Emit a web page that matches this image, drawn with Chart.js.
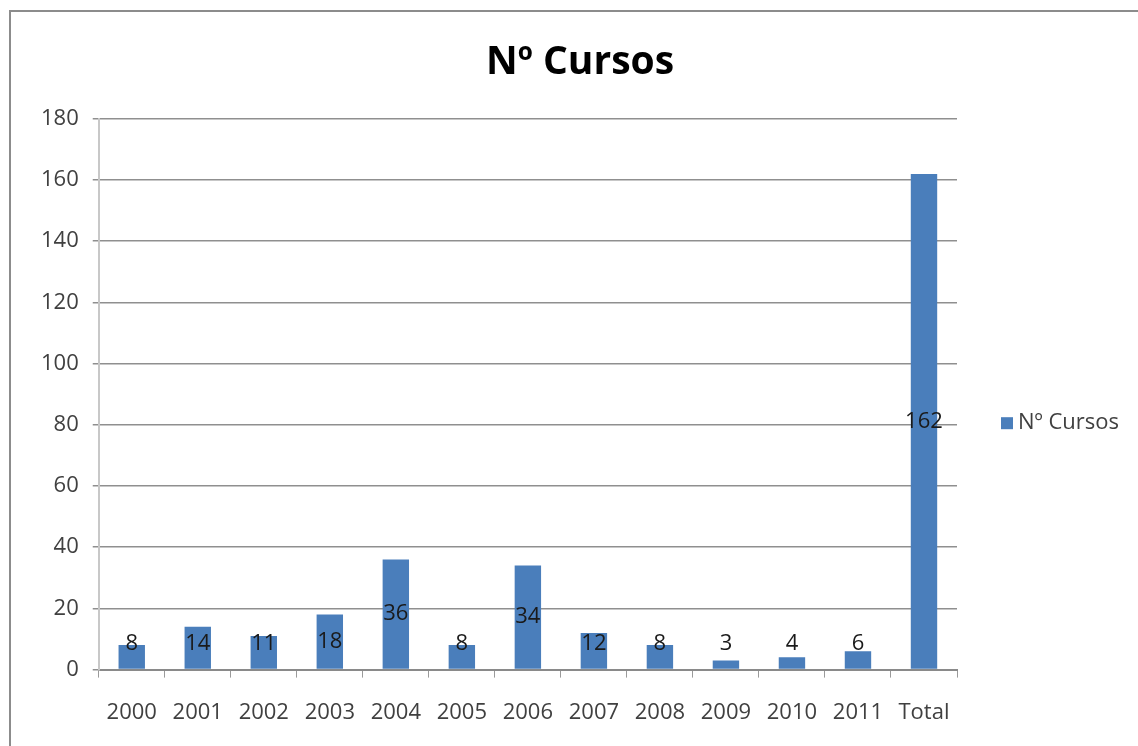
<!DOCTYPE html>
<html>
<head>
<meta charset="utf-8">
<script src="https://cdn.jsdelivr.net/npm/chart.js"></script>
<style>
    body { margin: 0; background: #fff; }
    #wrap { position: relative; width: 1138px; height: 746px; overflow: hidden; }
    #frame { position: absolute; left: 9px; top: 10px; width: 1200px; height: 800px; border: 2px solid #8c8c8c; box-sizing: border-box; }
    canvas { position: absolute; left: 0; top: 0; }
</style>
</head>
<body>
<div id="wrap">
    <div id="frame"></div>
    <canvas id="cursosChart" width="1138" height="746"></canvas>
</div>
<script>
const categories = ['2000', '2001', '2002', '2003', '2004', '2005', '2006', '2007', '2008', '2009', '2010', '2011', 'Total'];
const cursos = [8, 14, 11, 18, 36, 8, 34, 12, 8, 3, 4, 6, 162];
const yTicks = [0, 20, 40, 60, 80, 100, 120, 140, 160, 180];
const seriesName = 'Nº Cursos';
const barColor = '#4a7ebb';
const fontFamily = '"Open Sans", "Liberation Sans", sans-serif';

// value labels, centered on the bar but kept clear of the axis (like Excel)
const valueLabels = {
    id: 'valueLabels',
    afterDatasetsDraw(chart) {
        const ctx = chart.ctx;
        const meta = chart.getDatasetMeta(0);
        ctx.save();
        ctx.font = '22px ' + fontFamily;
        ctx.fillStyle = '#1a1a1a';
        ctx.textAlign = 'center';
        ctx.textBaseline = 'middle';
        meta.data.forEach((bar, i) => {
            const mid = (bar.y + bar.base) / 2;
            const y = Math.min(mid, bar.base - 25);
            ctx.fillText(String(cursos[i]), bar.x, y);
        });
        ctx.restore();
    }
};

// legend at the right, like the Excel one
const sideLegend = {
    id: 'sideLegend',
    afterDraw(chart) {
        const ctx = chart.ctx;
        const area = chart.chartArea;
        const x = area.right + 44;
        const y = (area.top + area.bottom) / 2 + 29;
        ctx.save();
        ctx.fillStyle = barColor;
        ctx.fillRect(x, y - 6, 12, 12);
        ctx.font = '22px ' + fontFamily;
        ctx.fillStyle = '#404040';
        ctx.textAlign = 'left';
        ctx.textBaseline = 'middle';
        ctx.fillText(seriesName, x + 17, y);
        ctx.restore();
    }
};

const ctx = document.getElementById('cursosChart').getContext('2d');
new Chart(ctx, {
    type: 'bar',
    data: {
        labels: categories,
        datasets: [{
            label: seriesName,
            data: cursos,
            backgroundColor: barColor,
            borderWidth: 0,
            barPercentage: 0.4,
            categoryPercentage: 1
        }]
    },
    options: {
        responsive: false,
        animation: false,
        layout: { padding: { top: 39, right: 5, left: 27, bottom: -2 } },
        plugins: {
            legend: { display: false },
            tooltip: { enabled: false },
            title: {
                display: true,
                text: seriesName,
                color: '#000',
                font: { family: fontFamily, size: 39, weight: 'bold' },
                padding: { top: 0, bottom: 33 }
            }
        },
        scales: {
            x: {
                grid: {
                    offset: true,
                    drawOnChartArea: false,
                    drawTicks: true,
                    tickLength: 8,
                    color: '#9a9a9a'
                },
                border: { display: true, color: '#8a8a8a', width: 2 },
                ticks: {
                    color: '#404040',
                    padding: 22,
                    maxRotation: 0,
                    font: { family: fontFamily, size: 22 }
                }
            },
            y: {
                min: 0,
                max: 180,
                afterBuildTicks(scale) {
                    scale.ticks = yTicks.map(v => ({ value: v }));
                },
                grid: {
                    color: '#8f8f8f',
                    lineWidth: 1.5,
                    tickLength: 6
                },
                border: { display: true, color: '#c8c8c8', width: 2 },
                ticks: {
                    color: '#404040',
                    padding: 14,
                    font: { family: fontFamily, size: 22 }
                }
            },
            // empty right-hand box that keeps room for the legend
            legendSpace: {
                type: 'linear',
                position: 'right',
                min: 0,
                max: 180,
                grid: { display: false },
                border: { display: false },
                ticks: { display: false },
                afterFit(scale) {
                    scale.width = 176;
                }
            }
        }
    },
    plugins: [valueLabels, sideLegend]
});
</script>
</body>
</html>
